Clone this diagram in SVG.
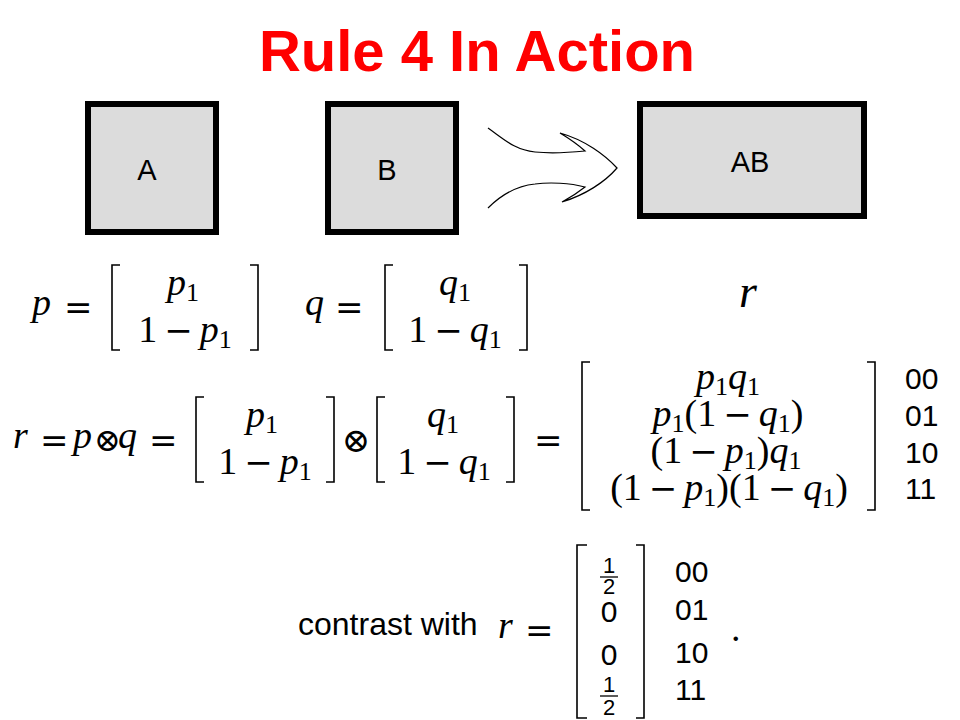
<svg xmlns="http://www.w3.org/2000/svg" width="960" height="720" viewBox="0 0 960 720">
<style>
.title{font-family:"Liberation Sans",Arial,sans-serif;font-weight:bold;font-size:58px;fill:#ff0000}
.box{fill:#dcdcdc;stroke:#000;stroke-width:6}
.lbl{font-family:"Liberation Sans",Arial,sans-serif;font-size:29px;fill:#000}
.m{font-family:"Liberation Serif","DejaVu Serif",serif;font-size:38px;fill:#000}
.i{font-style:italic}
.op{font-family:"DejaVu Serif","Liberation Serif",serif;font-style:normal;font-size:34px}
.ot{font-family:"DejaVu Serif","Liberation Serif",serif;font-style:normal;font-size:32px}
.sub{font-size:26px;font-style:normal}
.bit{font-family:"Liberation Sans",Arial,sans-serif;font-size:30px;fill:#000}
.fr{font-family:"Liberation Sans",Arial,sans-serif;font-size:22px;fill:#000}
.br{fill:none;stroke:#000;stroke-width:1.6}
.arrow{fill:none;stroke:#000;stroke-width:1.2}
</style>
<rect width="960" height="720" fill="#fff"/>
<text class="title" x="477" y="71" text-anchor="middle">Rule 4 In Action</text>

<g id="nodeA"><rect class="box" x="88" y="104" width="128" height="128"/><text class="lbl" x="147" y="180" text-anchor="middle">A</text></g>
<g id="nodeB"><rect class="box" x="328" y="104" width="128" height="128"/><text class="lbl" x="387" y="180" text-anchor="middle">B</text></g>
<g id="nodeAB"><rect class="box" x="640" y="104" width="224" height="112"/><text class="lbl" x="750" y="172" text-anchor="middle">AB</text></g>

<g id="connectors">
<path class="arrow" d="M488,128 C505,140 515,150 535,152 C555,154 575,152 585,151 Q575,142 560,133 C585,140 605,155 617,168 C605,182 585,195 562,202 Q575,195 585,187 C570,183 550,182 535,184 C515,186 500,196 488,208"/>
</g>

<g id="row1">
<text class="m i" x="32" y="315">p</text>
<text class="m op" x="64" y="319">=</text>
<path class="br" d="M120,265H112V350H120"/>
<text class="m" x="183" y="295" text-anchor="middle"><tspan class="i">p</tspan><tspan class="sub" dy="6">1</tspan></text>
<text class="m" x="185" y="342" text-anchor="middle">1<tspan class="op" dx="7">−</tspan><tspan class="i" dx="7">p</tspan><tspan class="sub" dy="6">1</tspan></text>
<path class="br" d="M250,265H258V350H250"/>
<text class="m i" x="305" y="315">q</text>
<text class="m op" x="335" y="319">=</text>
<path class="br" d="M393,265H385V350H393"/>
<text class="m" x="455" y="295" text-anchor="middle"><tspan class="i">q</tspan><tspan class="sub" dy="6">1</tspan></text>
<text class="m" x="455" y="342" text-anchor="middle">1<tspan class="op" dx="7">−</tspan><tspan class="i" dx="7">q</tspan><tspan class="sub" dy="6">1</tspan></text>
<path class="br" d="M519,265H527V350H519"/>
<text class="m i" x="748" y="307" text-anchor="middle" style="font-size:46px">r</text>
</g>

<g id="row2">
<text class="m i" x="13" y="448">r</text>
<text class="m op" x="40" y="452">=</text>
<text class="m i" x="73" y="448">p</text>
<text class="m ot" x="94" y="451">⊗</text>
<text class="m i" x="118" y="448">q</text>
<text class="m op" x="149" y="452">=</text>
<path class="br" d="M204,397H196V482H204"/>
<text class="m" x="262" y="427" text-anchor="middle"><tspan class="i">p</tspan><tspan class="sub" dy="6">1</tspan></text>
<text class="m" x="265" y="474" text-anchor="middle">1<tspan class="op" dx="7">−</tspan><tspan class="i" dx="7">p</tspan><tspan class="sub" dy="6">1</tspan></text>
<path class="br" d="M326,397H334V482H326"/>
<text class="m ot" x="356" y="452" text-anchor="middle" style="font-size:34px">⊗</text>
<path class="br" d="M385,397H377V482H385"/>
<text class="m" x="443" y="427" text-anchor="middle"><tspan class="i">q</tspan><tspan class="sub" dy="6">1</tspan></text>
<text class="m" x="444" y="474" text-anchor="middle">1<tspan class="op" dx="7">−</tspan><tspan class="i" dx="7">q</tspan><tspan class="sub" dy="6">1</tspan></text>
<path class="br" d="M506,397H514V482H506"/>
<text class="m op" x="534" y="452">=</text>
<path class="br" d="M590,362H582V510H590"/>
<text class="m" x="728" y="389" text-anchor="middle"><tspan class="i">p</tspan><tspan class="sub" dy="6">1</tspan><tspan class="i" dy="-6">q</tspan><tspan class="sub" dy="6">1</tspan></text>
<text class="m" x="728" y="426" text-anchor="middle"><tspan class="i">p</tspan><tspan class="sub" dy="6">1</tspan><tspan dy="-6">(1</tspan><tspan class="op" dx="7">−</tspan><tspan class="i" dx="7">q</tspan><tspan class="sub" dy="6">1</tspan><tspan dy="-6">)</tspan></text>
<text class="m" x="726" y="463" text-anchor="middle">(1<tspan class="op" dx="7">−</tspan><tspan class="i" dx="7">p</tspan><tspan class="sub" dy="6">1</tspan><tspan dy="-6">)</tspan><tspan class="i">q</tspan><tspan class="sub" dy="6">1</tspan></text>
<text class="m" x="729" y="500" text-anchor="middle">(1<tspan class="op" dx="7">−</tspan><tspan class="i" dx="7">p</tspan><tspan class="sub" dy="6">1</tspan><tspan dy="-6">)(1</tspan><tspan class="op" dx="7">−</tspan><tspan class="i" dx="7">q</tspan><tspan class="sub" dy="6">1</tspan><tspan dy="-6">)</tspan></text>
<path class="br" d="M867,362H875V510H867"/>
<text class="bit" x="905" y="389">00</text>
<text class="bit" x="905" y="426">01</text>
<text class="bit" x="905" y="463">10</text>
<text class="bit" x="905" y="499">11</text>
</g>

<g id="row3">
<text class="lbl" x="298" y="635" style="font-size:32px">contrast with</text>
<text class="m i" x="498" y="638">r</text>
<text class="m op" x="525" y="642">=</text>
<path class="br" d="M587,545H577V718H587"/>
<text class="fr" x="609" y="573" text-anchor="middle">1</text>
<line x1="600" y1="577" x2="618" y2="577" stroke="#000" stroke-width="1.3"/>
<text class="fr" x="609" y="594" text-anchor="middle">2</text>
<text class="bit" x="609" y="622" text-anchor="middle">0</text>
<text class="bit" x="609" y="665" text-anchor="middle">0</text>
<text class="fr" x="609" y="692" text-anchor="middle">1</text>
<line x1="600" y1="696" x2="618" y2="696" stroke="#000" stroke-width="1.3"/>
<text class="fr" x="609" y="715" text-anchor="middle">2</text>
<path class="br" d="M636,545H644V718H636"/>
<text class="bit" x="675" y="582">00</text>
<text class="bit" x="675" y="620">01</text>
<text class="bit" x="675" y="663">10</text>
<text class="bit" x="675" y="700">11</text>
<text class="m" x="731" y="641">.</text>
</g>
</svg>
